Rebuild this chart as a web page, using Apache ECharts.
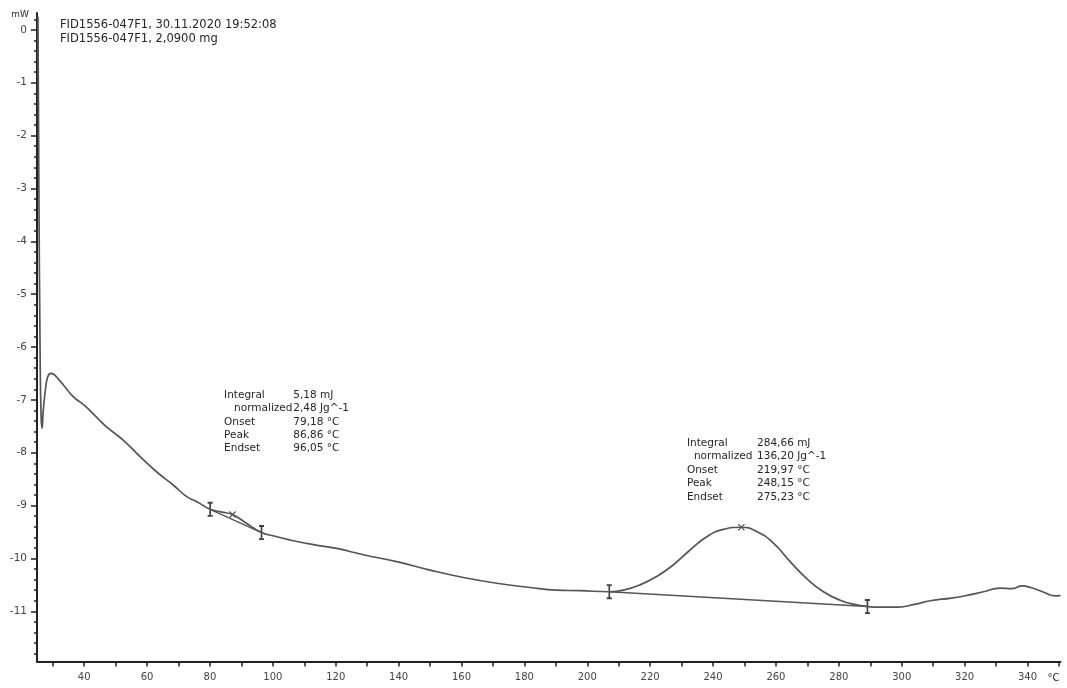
<!DOCTYPE html>
<html><head><meta charset="utf-8">
<script src="https://cdn.jsdelivr.net/npm/echarts@6/dist/echarts.min.js"></script>
<style>html,body{margin:0;padding:0;background:#fff}#c{width:1067px;height:688px}</style>
</head><body><div id="c"></div>
<script>
// ---- data ----
const temperature = [25.3, 25.6, 26.0, 26.3, 26.6, 27.0, 27.8, 28.5, 29.4, 32, 36.5, 40, 44, 47.1, 52.4, 57.7, 63.0, 68.3, 72.6, 76, 80.06, 83.5, 87.2, 91.5, 96.4, 100, 105.4, 112.9, 120.3, 128.8, 139.4, 150, 160.6, 171.2, 181.8, 190.3, 197.7, 207.0, 211.5, 216.8, 222.1, 227.4, 232.7, 238.0, 243.3, 249.0, 253.9, 259.2, 264.5, 269.8, 275.1, 280.4, 285.7, 289.1, 293.4, 298.8, 304.1, 309.1, 315.8, 320.7, 326.0, 331.3, 335.1, 338.3, 341.0, 344.8, 349.0, 350.5];
const heatFlow = [0.25, -3.0, -6.2, -7.3, -7.54, -7.2, -6.75, -6.55, -6.50, -6.62, -6.94, -7.10, -7.33, -7.51, -7.76, -8.07, -8.36, -8.61, -8.83, -8.93, -9.07, -9.12, -9.17, -9.33, -9.51, -9.57, -9.65, -9.74, -9.81, -9.93, -10.06, -10.22, -10.36, -10.47, -10.55, -10.60, -10.61, -10.63, -10.60, -10.50, -10.34, -10.12, -9.84, -9.59, -9.45, -9.41, -9.49, -9.71, -10.06, -10.38, -10.63, -10.79, -10.88, -10.91, -10.92, -10.92, -10.87, -10.80, -10.75, -10.70, -10.63, -10.56, -10.57, -10.52, -10.55, -10.63, -10.71, -10.70];
const baseline1T = [80.06, 96.4];
const baseline1V = [-9.07, -9.51];
const baseline2T = [207.0, 289.1];
const baseline2V = [-10.63, -10.91];
const limitT = [80.06, 96.4, 207.0, 289.1];
const limitV = [-9.07, -9.51, -10.63, -10.91];
const peakT = [87.2, 249.0];
const peakV = [-9.17, -9.41];
const xTickValues = [30, 40, 50, 60, 70, 80, 90, 100, 110, 120, 130, 140, 150, 160, 170, 180, 190, 200, 210, 220, 230, 240, 250, 260, 270, 280, 290, 300, 310, 320, 330, 340, 350];
const xLabelValues = [40, 60, 80, 100, 120, 140, 160, 180, 200, 220, 240, 260, 280, 300, 320, 340];
const yLabelValues = [0, -1, -2, -3, -4, -5, -6, -7, -8, -9, -10, -11];
const yMinorValues = [0.2, -0.2, -0.4, -0.6, -0.8, -1.2, -1.4, -1.6, -1.8, -2.2, -2.4, -2.6, -2.8, -3.2, -3.4, -3.6, -3.8, -4.2, -4.4, -4.6, -4.8, -5.2, -5.4, -5.6, -5.8, -6.2, -6.4, -6.6, -6.8, -7.2, -7.4, -7.6, -7.8, -8.2, -8.4, -8.6, -8.8, -9.2, -9.4, -9.6, -9.8, -10.2, -10.4, -10.6, -10.8, -11.2, -11.4, -11.6, -11.8];
const headerLines = ['FID1556-047F1, 30.11.2020 19:52:08', 'FID1556-047F1, 2,0900 mg'];
const annotLabels = ['Integral', 'normalized', 'Onset', 'Peak', 'Endset'];
const annot1Values = ['5,18 mJ', '2,48 Jg^-1', '79,18 °C', '86,86 °C', '96,05 °C'];
const annot2Values = ['284,66 mJ', '136,20 Jg^-1', '219,97 °C', '248,15 °C', '275,23 °C'];
const yUnit = 'mW';
const xUnit = '°C';

// ---- chart ----
const FONT = '"DejaVu Sans", Verdana, sans-serif';
const LINE = '#555555';
const AXIS = '#222222';
const chart = echarts.init(document.getElementById('c'), null, {renderer: 'canvas'});

const zip = (a, b) => a.map((t, i) => [t, b[i]]);
const iBeam = 'path://M0,0L6,0L6,2L4,2L4,14L6,14L6,16L0,16L0,14L2,14L2,2L0,2Z';
const cross = 'path://M0,1.2L1.2,0L5,3.8L8.8,0L10,1.2L6.2,5L10,8.8L8.8,10L5,6.2L1.2,10L0,8.8L3.8,5Z';

const option = {
  animation: false,
  backgroundColor: '#ffffff',
  grid: {left: 37, right: 6.5, top: 13, bottom: 26.5, containLabel: false, outerBoundsMode: 'none'},
  xAxis: {
    type: 'value', min: 25, max: 350.5,
    axisLine: {show: true, onZero: false, lineStyle: {color: AXIS, width: 2}},
    axisTick: {show: true, customValues: xTickValues, length: 5, lineStyle: {color: AXIS, width: 1.5}},
    axisLabel: {customValues: xLabelValues, color: '#444', fontSize: 10, fontFamily: FONT, margin: 11},
    splitLine: {show: false}
  },
  yAxis: [{
    type: 'value', min: -11.95, max: 0.32, position: 'left',
    axisLine: {show: true, onZero: false, lineStyle: {color: AXIS, width: 2}},
    axisTick: {show: true, customValues: yLabelValues, length: 6, lineStyle: {color: AXIS, width: 1.5}},
    axisLabel: {customValues: yLabelValues, color: '#444', fontSize: 10.5, fontFamily: FONT, margin: 10},
    splitLine: {show: false}
  }, {
    type: 'value', min: -11.95, max: 0.32, position: 'left', offset: 0,
    axisLine: {show: false},
    axisTick: {show: true, customValues: yMinorValues, length: 3, lineStyle: {color: AXIS, width: 1.5}},
    axisLabel: {show: false},
    splitLine: {show: false}
  }],
  series: [{
    type: 'line', data: zip(temperature, heatFlow), showSymbol: false,
    smooth: 0.5, silent: true,
    lineStyle: {color: LINE, width: 1.7}
  }, {
    type: 'line', data: zip(baseline1T, baseline1V), showSymbol: false, silent: true,
    lineStyle: {color: LINE, width: 1.4}
  }, {
    type: 'line', data: zip(baseline2T, baseline2V), showSymbol: false, silent: true,
    lineStyle: {color: LINE, width: 1.4}
  }, {
    type: 'scatter', data: zip(limitT, limitV), symbol: iBeam, symbolSize: [5, 15], silent: true,
    itemStyle: {color: '#111'}
  }, {
    type: 'scatter', data: zip(peakT, peakV), symbol: cross, symbolSize: 7, silent: true,
    itemStyle: {color: '#222'}
  }]
};
chart.setOption(option);

// ---- text annotations anchored to data coordinates ----
function txt(x, y, text, align, size) {
  return {type: 'text', silent: true, style: {x: x, y: y, text: text, fill: '#262626', font: (size || 10.5) + 'px ' + FONT, align: align || 'left', verticalAlign: 'middle'}};
}
function block(labelAnchor, valueAnchor, values, indent) {
  const p = chart.convertToPixel({gridIndex: 0}, labelAnchor);
  const q = chart.convertToPixel({gridIndex: 0}, valueAnchor);
  const els = [];
  annotLabels.forEach((l, i) => {
    els.push(txt(p[0] + (i === 1 ? indent : 0), p[1] + i * 13.4, l));
    els.push(txt(q[0], p[1] + i * 13.4, values[i]));
  });
  return els;
}
const g = [];
headerLines.forEach((l, i) => g.push(txt(60, 25 + i * 14.5, l, 'left', 11.5)));
const top0 = chart.convertToPixel({gridIndex: 0}, [25, 0.32]);
g.push(txt(29, top0[1] + 2, yUnit, 'right', 9));
const xEnd = chart.convertToPixel({gridIndex: 0}, [350.5, -11.95]);
g.push(txt(xEnd[0] - 1, xEnd[1] + 16.5, xUnit, 'right', 10));
g.push(...block([84.5, -6.91], [106.5, -6.91], annot1Values, 10));
g.push(...block([231.7, -7.82], [254.0, -7.82], annot2Values, 7));
chart.setOption({graphic: {elements: g}});
</script>
</body></html>
